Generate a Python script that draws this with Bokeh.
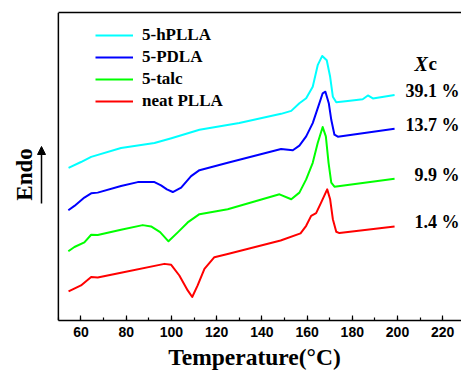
import math
from bokeh.plotting import figure
from bokeh.models import (Range1d, LinearAxis, SingleIntervalTicker, FixedTicker, Legend,
                          LegendItem, Label, Arrow, NormalHead, ColumnDataSource, Span)
from bokeh.core.properties import value
from bokeh.embed import file_html
from bokeh.resources import INLINE

# ---- data (temperature in °C, heat flow in arbitrary offset units, endo up) ----
hplla_T = [54.5, 60, 64.5, 77.7, 92.5, 100, 112.4, 130, 148.5, 153, 156.6, 159.6, 162.5,
           164.7, 166.7, 168.7, 170.2, 171.4, 172.9, 178, 184.6, 186.9, 189.1, 198.7]
hplla_y = [153.7, 159.5, 164.7, 173.7, 178.7, 183.5, 192, 198.7, 208, 211, 218.7, 223.7, 235.3,
           257, 266.3, 262, 245.3, 225.3, 219.7, 221, 222.7, 226.5, 223.5, 227]

pdla_T = [54.4, 57.1, 61.5, 64.5, 67.4, 77.7, 85.1, 92.5, 95.4, 98, 100.6, 104.3, 108.7, 112.4,
          124.9, 148.5, 153.7, 156.6, 159.6, 162.5, 165.2, 166.9, 168.1, 169.6, 170.7, 172.1,
          173.6, 198.7]
pdla_y = [111, 115.3, 123.7, 128, 128.7, 135.3, 139.3, 139.3, 136, 132, 129.3, 133.7, 145.3, 151.3,
          158.7, 172.7, 171.3, 176, 185.3, 198.7, 217, 228.7, 230.3, 218.7, 202, 187,
          185, 193]

talc_T = [54.4, 57.1, 61.5, 64.5, 67.4, 77.7, 87.3, 91, 95, 98.7, 102.8, 107.2, 112.4, 124.9,
          147.8, 153, 156.6, 159.6, 162.5, 164.7, 166.9, 168.3, 169.5, 170.7, 172.1, 198.7]
talc_y = [69.7, 74, 78.7, 86.3, 86, 91.3, 96, 94.7, 89, 79.7, 88.7, 98.7, 107, 112,
          127, 122, 128.7, 142, 158.7, 178.7, 194.7, 185.3, 158.7, 138.7, 134.7, 142.7]

neat_T = [54.5, 60, 64.5, 67.4, 77.7, 96.9, 99.9, 103.5, 107.2, 109.2, 111.6, 114.6, 119, 124.9,
          148.3, 157.1, 159.6, 161.8, 164, 166.2, 168.9, 170.2, 171.4, 172.9, 174.3, 198.7]
neat_y = [29.3, 35.3, 43.7, 43.3, 48, 57, 56, 45.3, 30.3, 23.7, 35.3, 52, 63.7, 67,
          80.5, 87.7, 95.3, 105.3, 108, 118.7, 132, 122, 102, 89.3, 88, 94.7]

series_names = ["5-hPLLA", "5-PDLA", "5-talc", "neat PLLA"]
series_colors = ["#00FFFF", "#0000FF", "#00FF00", "#FF0000"]
xc_labels = ["39.1 %", "13.7 %", "9.9 %", "1.4 %"]

X_MIN, X_MAX = 50, 228.3      # plotted temperature window (box edges)
SERIF = "Liberation Serif"
SANS = "Liberation Sans"

# frame spans the whole canvas width; the box starts at X_MIN (via axis bounds + span)
p = figure(width=461, height=372, x_range=Range1d(24.4, X_MAX), y_range=Range1d(0, 310),
           output_backend="svg", toolbar_location=None,
           min_border_left=0, min_border_right=0, min_border_top=12, min_border_bottom=50)
p.outline_line_color = None
p.grid.visible = False
p.yaxis.visible = False

# bottom axis
xa = p.xaxis[0]
xa.bounds = (X_MIN, X_MAX)
xa.ticker = SingleIntervalTicker(interval=20, num_minor_ticks=2)
xa.major_tick_in = 5
xa.major_tick_out = 0
xa.minor_tick_in = 3
xa.minor_tick_out = 0
xa.axis_line_width = 1.5
xa.major_tick_line_width = 1.2
xa.minor_tick_line_width = 1.2
xa.major_label_text_font = SANS
xa.major_label_text_font_style = "bold"
xa.major_label_text_font_size = "14px"
xa.major_label_text_color = "black"
xa.major_label_standoff = 6
# leading no-break spaces shift the centred title right, to the box centre
xa.axis_label = "\u00a0" * 8 + "Temperature(°C)"
xa.axis_label_text_font = SERIF
xa.axis_label_text_font_style = "bold"
xa.axis_label_text_font_size = "23.5px"
xa.axis_label_text_color = "black"
xa.axis_label_standoff = 4

# top and left box lines
top = LinearAxis(ticker=FixedTicker(ticks=[]), bounds=(X_MIN, X_MAX), major_tick_in=0,
                 major_tick_out=0, minor_tick_in=0, minor_tick_out=0, axis_line_width=1.5,
                 major_label_text_font_size="0px")
p.add_layout(top, "above")
p.add_layout(Span(location=X_MIN, dimension="height", line_color="black", line_width=1.5))

items = []
for T, y, name, col in zip([hplla_T, pdla_T, talc_T, neat_T],
                           [hplla_y, pdla_y, talc_y, neat_y],
                           series_names, series_colors):
    r = p.line(T, y, line_color=col, line_width=2, line_join="round")
    items.append(LegendItem(label=name, renderers=[r]))

legend = Legend(items=items, location=(95, 209), padding=0, margin=0,
                border_line_color=None, background_fill_alpha=0,
                glyph_width=38, glyph_height=20, label_height=20, spacing=2,
                label_standoff=9, label_text_font=SERIF, label_text_font_style="bold",
                label_text_font_size="17px", label_text_color="black")
p.add_layout(legend)

# crystallinity labels at the end of each curve
ends_y = [s[-1] + 4 for s in [hplla_y, pdla_y, talc_y, neat_y]]
src = ColumnDataSource(dict(x=[227.4] * 4, y=ends_y, t=xc_labels))
p.text(x="x", y="y", text="t", source=src, text_align="right", text_baseline="middle",
       text_font=value(SERIF), text_font_style="bold", text_font_size=value("18px"),
       text_color="black")

p.add_layout(Label(x=414, y=257, x_units="screen", y_units="screen", text="X",
                   text_font=SERIF, text_font_style="bold italic", text_font_size="20px",
                   text_baseline="alphabetic", text_color="black"))
p.add_layout(Label(x=428, y=257, x_units="screen", y_units="screen", text="c",
                   text_font=SERIF, text_font_style="bold", text_font_size="19px",
                   text_baseline="alphabetic", text_color="black"))

# y label "Endo" with upward arrow
p.add_layout(Label(x=24, y=146, x_units="screen", y_units="screen", text="Endo",
                   angle=math.pi / 2, text_align="center", text_baseline="middle",
                   text_font=SERIF, text_font_style="bold", text_font_size="23px",
                   text_color="black"))
p.add_layout(Arrow(x_start=41, y_start=117, x_end=41, y_end=174,
                   start_units="screen", end_units="screen", line_width=1.5,
                   end=NormalHead(size=8, fill_color="black", line_color="black")))

open("out.html", "w").write(file_html(p, INLINE))
